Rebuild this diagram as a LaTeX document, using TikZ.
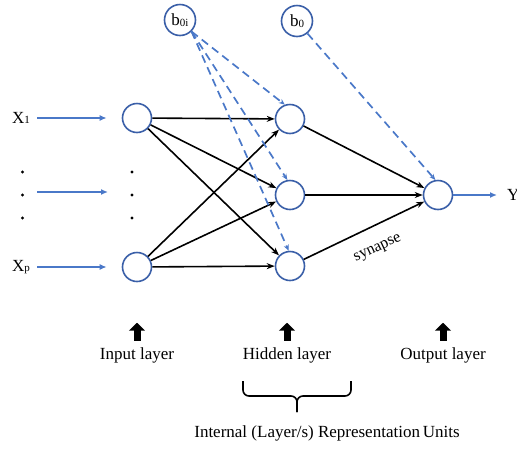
\documentclass[tikz,border=0pt]{standalone}
\usepackage{fontspec}
\setmainfont{Liberation Serif}
\usetikzlibrary{arrows.meta}
\definecolor{nblue}{HTML}{3A5FA8}
\definecolor{ablue}{HTML}{4A78C8}
\newcommand{\subx}[1]{\raisebox{-0.1ex}{\fontsize{11}{12}\selectfont #1}}
\begin{document}
\begin{tikzpicture}[x=1pt,y=-1pt,
  every node/.style={font=\fontsize{17}{20}\selectfont},
  neuron/.style={circle,draw=nblue,line width=1.6pt,minimum size=29pt,inner sep=0pt},
  bias/.style={circle,draw=nblue,line width=1.6pt,minimum size=31pt,inner sep=0pt},
  syn/.style={line width=1.6pt,-{Stealth[length=8pt,width=6pt]}},
  inarrow/.style={draw=ablue,line width=1.8pt,-{Latex[length=7pt,width=6pt]}},
  biasline/.style={draw=ablue,line width=1.7pt,dash pattern=on 8pt off 5pt,-{Stealth[length=6pt,width=5pt]}},
  bigarrow/.style={line width=7pt,-{Triangle[length=8pt,width=16pt]}},
  dotmark/.style={circle,fill=black,inner sep=0pt,minimum size=3.2pt}]
\useasboundingbox (0,0) rectangle (517,448);

% neurons
\node[neuron] (i1) at (137,118) {};
\node[neuron] (ip) at (137,267) {};
\node[neuron] (h1) at (290,119) {};
\node[neuron] (h2) at (290,195) {};
\node[neuron] (h3) at (290,266) {};
\node[neuron] (o) at (438,195) {};

% biases
\node[bias] (b0i) at (180,20) {b\subx{0i}};
\node[bias] (b0) at (297,21) {b\subx{0}};

% input labels
\node (x1) at (21,118) {X\subx{1}};
\node (xp) at (21,267) {X\subx{p}};
\coordinate (xm) at (37,192);
\coordinate (im) at (108,192);
\node[anchor=west,inner sep=0pt] (y) at (507,195) {Y};

% input arrows
\draw[inarrow] ([xshift=4pt]x1.east) -- ([xshift=-15pt]i1.west);
\draw[inarrow] (xm) -- (im);
\draw[inarrow] ([xshift=4pt]xp.east) -- ([xshift=-15pt]ip.west);
\draw[inarrow] (o) -- ([xshift=-10pt]y.west);

% dots
\node[dotmark] (d1) at (22.5,172) {};
\node[dotmark] (d2) at (22.5,195) {};
\node[dotmark] (d3) at (22.5,218) {};
\node[dotmark] (e1) at (132,172) {};
\node[dotmark] (e2) at (132,195) {};
\node[dotmark] (e3) at (132,218) {};

% synapses input -> hidden
\foreach \a in {i1,ip}
  \foreach \b in {h1,h2,h3}
    \draw[syn] (\a) -- (\b);
% hidden -> output
\draw[syn] (h1) -- (o);
\draw[syn] (h2) -- (o);
\draw[syn] (h3) -- (o);
\node[rotate=25,font=\fontsize{16}{18}\selectfont,inner sep=0pt] (synlab) at (378,249) {synapse};

% bias lines
\draw[biasline] (b0i.-45) -- (h1.110);
\draw[biasline] (b0i.-45) -- (h2.100);
\draw[biasline] (b0i.-45) -- (h3.95);
\draw[biasline] (b0.-50) -- (o.100);

% layer labels
\node (inlab) at (137,355) {Input layer};
\node (hidlab) at (287,355) {Hidden layer};
\node (outlab) at (443,355) {Output layer};
\draw[bigarrow] ([yshift=3pt]inlab.north) -- ++(0,-18);
\draw[bigarrow] ([yshift=3pt]hidlab.north) -- ++(0,-18);
\draw[bigarrow] ([yshift=3pt]outlab.north) -- ++(0,-18);

% brace
\coordinate (bl) at (243,381);
\coordinate (br) at (351,381);
\coordinate (bt) at (297,412);
\draw[line width=1.6pt,rounded corners=6pt]
  (bl) -- (243,396) -- (297,396) -- (bt);
\draw[line width=1.6pt,rounded corners=6pt]
  (br) -- (351,396) -- (297,396) -- (bt);
\node (intlab) at (327,433) {Internal (Layer/s) Representation\,Units};
\end{tikzpicture}
\end{document}
